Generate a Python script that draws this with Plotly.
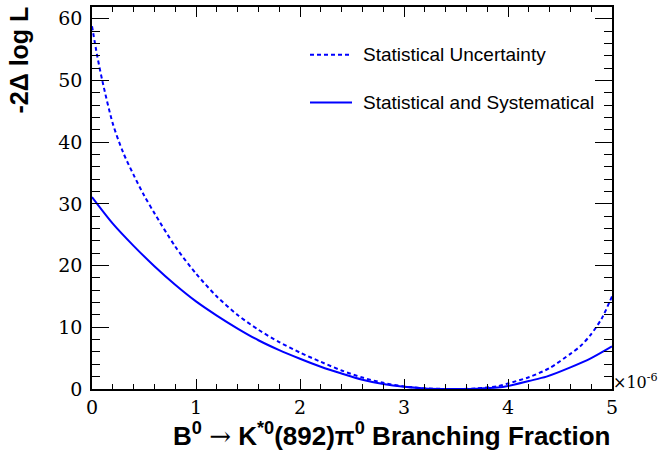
import plotly.graph_objects as go

# Branching fraction (units of 1e-6)
x_stat = [0.00, 0.05, 0.10, 0.20, 0.30, 0.40, 0.50, 0.60, 0.80, 1.00, 1.20, 1.40,
          1.60, 1.80, 2.00, 2.20, 2.40, 2.60, 2.80, 3.00, 3.20, 3.40, 3.55, 3.70,
          3.90, 4.00, 4.20, 4.40, 4.60, 4.70, 4.80, 4.90, 5.00]
nll_stat = [58.8, 54.0, 49.9, 43.0, 38.3, 34.7, 31.4, 28.5, 23.1, 18.7, 15.0, 12.0,
            9.6, 7.6, 5.9, 4.4, 3.0, 1.85, 1.0, 0.42, 0.1, 0.01, 0.0, 0.1,
            0.45, 0.9, 1.9, 3.4, 5.7, 7.0, 8.9, 11.4, 15.0]

x_syst = [0.00, 0.20, 0.40, 0.60, 0.80, 1.00, 1.20, 1.40, 1.60, 1.80, 2.00, 2.20,
          2.40, 2.60, 2.80, 3.00, 3.20, 3.40, 3.55, 3.70, 3.90, 4.00, 4.20, 4.37,
          4.60, 4.80, 5.00]
nll_syst = [31.1, 26.8, 23.2, 19.9, 16.9, 14.2, 11.9, 9.8, 7.9, 6.3, 4.9, 3.6,
            2.5, 1.5, 0.8, 0.35, 0.1, 0.01, 0.0, 0.06, 0.25, 0.5, 1.3, 2.0,
            3.5, 5.0, 6.9]

legend_labels = ["Statistical Uncertainty", "Statistical and Systematical"]

BLUE = "#0000ff"
SERIF = "DejaVu Serif"
fig = go.Figure()
fig.add_trace(go.Scatter(x=x_stat, y=nll_stat, mode="lines",
                         line=dict(color=BLUE, width=2, dash="4px,3px", shape="spline", smoothing=0.8),
                         showlegend=False))
fig.add_trace(go.Scatter(x=x_syst, y=nll_syst, mode="lines",
                         line=dict(color=BLUE, width=2, shape="spline", smoothing=0.8),
                         showlegend=False))

tickfont = dict(family=SERIF, size=19, color="black")
fig.update_xaxes(range=[0, 5], dtick=1, tick0=0, ticks="inside", ticklen=10,
                 tickwidth=1, tickcolor="black", showline=True, linecolor="black",
                 linewidth=1.5, mirror="allticks", showgrid=False, zeroline=False,
                 tickfont=tickfont, automargin=False,
                 minor=dict(dtick=0.2, ticklen=5, ticks="inside", tickcolor="black",
                            tickwidth=1, showgrid=False))
fig.update_yaxes(range=[0, 61.9], dtick=10, tick0=0, ticks="inside", ticklen=17,
                 tickwidth=1, tickcolor="black", showline=True, linecolor="black",
                 linewidth=1.5, mirror="allticks", showgrid=False, zeroline=False,
                 tickfont=tickfont, ticklabelstandoff=4, automargin=False,
                 minor=dict(dtick=2, ticklen=8, ticks="inside", tickcolor="black",
                            tickwidth=1, showgrid=False))

# legend drawn manually (ROOT TLegend style)
leg_y = [0.875, 0.75]
dashes = ["4px,3px", "solid"]
for yy, lab, d in zip(leg_y, legend_labels, dashes):
    fig.add_shape(type="line", xref="paper", yref="paper",
                  x0=(310 - 92) / 520, x1=(352 - 92) / 520, y0=yy, y1=yy,
                  line=dict(color=BLUE, width=2, dash=d))
    fig.add_annotation(text=lab, xref="paper", yref="paper",
                       x=(361 - 92) / 520, y=yy, xanchor="left", yanchor="middle",
                       showarrow=False,
                       font=dict(family="Liberation Sans", size=19, color="black"))

fig.add_annotation(text="×10<sup>-6</sup>", xref="paper", yref="paper",
                   x=1.0, y=0.0, xanchor="left", yanchor="bottom", showarrow=False,
                   xshift=-1, yshift=-5,
                   font=dict(family=SERIF, size=16, color="black"))

fig.add_annotation(text="<b>B<sup>0</sup> <span style='font-family:DejaVu Serif;font-weight:normal'>→</span> K<sup>*0</sup>(892)π<sup>0</sup> Branching Fraction</b>",
                   xref="paper", yref="paper", x=1.0, y=0, xanchor="right",
                   yanchor="top", yshift=-27, showarrow=False,
                   font=dict(family="Liberation Sans", size=26, color="black"))

fig.add_annotation(text="<b>-2Δ log L</b>", xref="paper", yref="paper",
                   x=0, y=1, xanchor="center", yanchor="top", xshift=-74, yshift=2,
                   textangle=-90, showarrow=False,
                   font=dict(family="Liberation Sans", size=25, color="black"))

fig.update_layout(width=663, height=455, margin=dict(l=92, r=51, t=7, b=66),
                  plot_bgcolor="white", paper_bgcolor="white")

fig.write_html("out.html", config={"displayModeBar": False},
               post_script="document.body.style.margin='0';document.body.style.padding='0';")
